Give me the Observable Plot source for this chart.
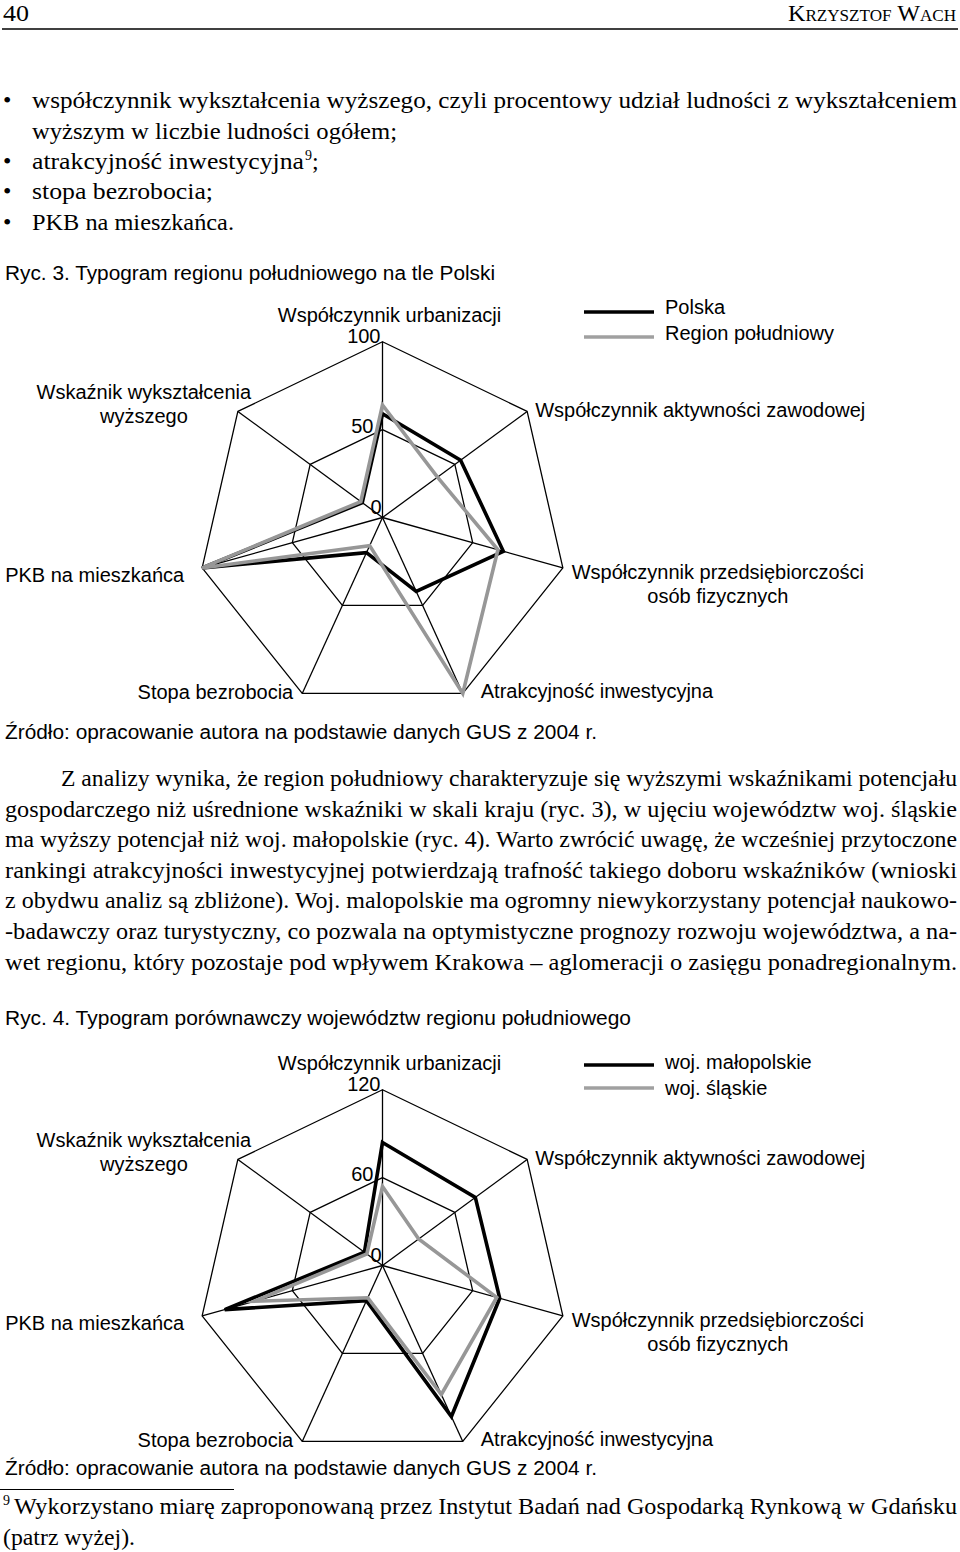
<!DOCTYPE html>
<html>
<head>
<meta charset="utf-8">
<script src="https://cdn.jsdelivr.net/npm/d3@7"></script>
<script src="https://cdn.jsdelivr.net/npm/@observablehq/plot@0.6"></script>
<style>
  html, body { margin: 0; padding: 0; background: #fff; }
  #page { position: relative; width: 960px; height: 1552px; overflow: hidden; background: #fff; }
  .chart { position: absolute; left: 0; width: 960px; }
  #overlay { position: absolute; left: 0; top: 0; pointer-events: none; }
  .serif { font-family: "Liberation Serif", "Times New Roman", serif; fill: #000; }
  .sans { font-family: "Liberation Sans", Arial, Helvetica, sans-serif; fill: #000; }
</style>
</head>
<body>
<div id="page"></div>
<script>
// ---------------- DATA ----------------
// radar axes, clockwise from the top
const axes = [
  "Współczynnik urbanizacji",
  "Współczynnik aktywności zawodowej",
  "Współczynnik przedsiębiorczości\nosób fizycznych",
  "Atrakcyjność inwestycyjna",
  "Stopa bezrobocia",
  "PKB na mieszkańca",
  "Wskaźnik wykształcenia\nwyższego"
];

// Ryc. 3
const fig3Title = "Ryc. 3. Typogram regionu południowego na tle Polski";
const fig3Series = ["Polska", "Region południowy"];
const fig3Polska = [59, 54, 67, 42, 20, 100, 14];
const fig3Region = [64, 38, 64, 100, 16, 100, 15];
const fig3Ticks = [0, 50, 100];

// Ryc. 4
const fig4Title = "Ryc. 4. Typogram porównawczy województw regionu południowego";
const fig4Series = ["woj. małopolskie", "woj. śląskie"];
const fig4Malopolskie = [84, 77, 78, 103, 24, 105, 15];
const fig4Slaskie = [54, 30, 76, 88, 22, 85, 13];
const fig4Ticks = [0, 60, 120];

const sourceText = "Źródło: opracowanie autora na podstawie danych GUS z 2004 r.";

const headerPage = "40";
const headerAuthor = "Krzysztof Wach";

const bulletLines = [
  "współczynnik wykształcenia wyższego, czyli procentowy udział ludności z wykształceniem",
  "wyższym w liczbie ludności ogółem;",
  "atrakcyjność  inwestycyjna",
  "stopa  bezrobocia;",
  "PKB na mieszkańca."
];
const bulletHasDot = [true, false, true, true, true];

const paragraphLines = [
  "Z analizy wynika, że region południowy charakteryzuje się wyższymi wskaźnikami potencjału",
  "gospodarczego niż uśrednione wskaźniki w skali kraju (ryc. 3), w ujęciu województw woj. śląskie",
  "ma wyższy potencjał niż woj. małopolskie (ryc. 4). Warto zwrócić uwagę, że wcześniej przytoczone",
  "rankingi atrakcyjności inwestycyjnej potwierdzają trafność takiego doboru wskaźników (wnioski",
  "z obydwu analiz są zbliżone). Woj. malopolskie ma ogromny niewykorzystany potencjał naukowo-",
  "-badawczy oraz turystyczny, co pozwala na optymistyczne prognozy rozwoju województwa, a na-",
  "wet regionu, który pozostaje pod wpływem Krakowa – aglomeracji o zasięgu ponadregionalnym."
];

const footnoteLines = [
  "Wykorzystano miarę zaproponowaną przez Instytut Badań nad Gospodarką Rynkową w Gdańsku",
  "(patrz wyżej)."
];

// ---------------- LAYOUT ----------------
const CX = 382, CY = 227, R = 185;   // radar centre and radius inside each chart svg
const SKEW = 0.05;                   // slight radial drift of the original drawing
const N = axes.length;
function pt(i, r) {
  const a = 2 * Math.PI * i / N;
  return [r * Math.sin(a), r * Math.cos(a) - SKEW * r];
}
// per-axis label placement (pixel offsets from the outer vertex)
const labelLayout = [
  {anchor: "middle", dx: 7, dy: -28},
  {anchor: "start", dx: 8, dy: -2},
  {anchor: "middle", dx: 155, dy: 15},
  {anchor: "start", dx: 18, dy: -3},
  {anchor: "end", dx: -9, dy: -2},
  {anchor: "end", dx: -18, dy: 6},
  {anchor: "middle", dx: -94, dy: -8}
];
const tickLayout = [
  {dx: -1, dy: -10},
  {dx: -9, dy: -3},
  {dx: -2, dy: -5}
];

function radar(seriesValues, max, ticks) {
  const rings = ticks.filter(t => t > 0).flatMap(t => axes.map((_, i) => ({ring: t, i, r: t / max})));
  const spokes = axes.map((_, i) => ({i}));
  const colors = ["#000000", "#979797"];
  const seriesMarks = seriesValues.map((vals, s) => {
    const data = vals.map((v, i) => ({i, r: v / max}));
    return Plot.line(data, {
      x: d => pt(d.i, d.r)[0], y: d => pt(d.i, d.r)[1],
      curve: "linear-closed", stroke: colors[s], strokeWidth: 3.6,
      strokeLinejoin: "miter", strokeMiterlimit: 6
    });
  });
  const labelMarks = axes.map((name, i) => Plot.text([i], {
    x: k => pt(k, 1)[0], y: k => pt(k, 1)[1],
    text: k => axes[k],
    textAnchor: labelLayout[i].anchor, dx: labelLayout[i].dx, dy: labelLayout[i].dy,
    lineHeight: 1.22, fontSize: 20, fill: "#000"
  }));
  const tickMarks = ticks.map((t, k) => Plot.text([t], {
    x: v => pt(0, v / max)[0], y: v => pt(0, v / max)[1],
    text: v => String(v), textAnchor: "end",
    dx: tickLayout[k].dx, dy: tickLayout[k].dy, fontSize: 20, fill: "#000"
  }));
  return Plot.plot({
    width: 960, height: 420, margin: 0,
    x: {domain: [-1, 1], range: [CX - R, CX + R], axis: null},
    y: {domain: [-1, 1], range: [CY + R, CY - R], axis: null},
    style: {fontFamily: "'Liberation Sans', Arial, Helvetica, sans-serif", fontSize: "20px", background: "transparent", color: "#000"},
    marks: [
      Plot.line(rings, {x: d => pt(d.i, d.r)[0], y: d => pt(d.i, d.r)[1], z: "ring",
        curve: "linear-closed", stroke: "#000", strokeWidth: 1.3}),
      Plot.link(spokes, {x1: d => 0, y1: d => 0, x2: d => pt(d.i, 1)[0], y2: d => pt(d.i, 1)[1],
        stroke: "#000", strokeWidth: 1.3}),
      ...seriesMarks,
      ...labelMarks,
      ...tickMarks
    ]
  });
}

const page = document.getElementById("page");

function placeChart(node, top) {
  const wrap = document.createElement("div");
  wrap.className = "chart";
  wrap.style.top = top + "px";
  wrap.appendChild(node);
  page.appendChild(wrap);
}
placeChart(radar([fig3Polska, fig3Region], 100, fig3Ticks), 290);
placeChart(radar([fig4Malopolskie, fig4Slaskie], 120, fig4Ticks), 1038);

// ---------------- PAGE TEXT OVERLAY ----------------
const svg = d3.select(page).append("svg").attr("id", "overlay")
  .attr("width", 960).attr("height", 1552);

function line(cls, txt, x, y, size, width, anchor) {
  const t = svg.append("text").attr("class", cls).attr("x", x).attr("y", y)
    .attr("font-size", size).text(txt);
  if (anchor) t.attr("text-anchor", anchor);
  if (width) t.attr("textLength", width).attr("lengthAdjust", "spacingAndGlyphs");
  return t;
}

// header
line("serif", headerPage, 3, 21, 24, 26);
line("serif", headerAuthor, 956, 21, 24, 168, "end").style("font-variant", "small-caps");
svg.append("line").attr("x1", 2).attr("x2", 958).attr("y1", 29).attr("y2", 29)
  .attr("stroke", "#000").attr("stroke-width", 1.6);

// bullet list
const bulletBase = [108, 138.5, 169, 199, 229.5];
const bulletWidth = [925, 365, 272, 181, 202];
bulletLines.forEach((txt, k) => {
  if (bulletHasDot[k]) line("serif", "•", 3, bulletBase[k], 24);
  line("serif", txt, 32, bulletBase[k], k === 0 ? 23 : 24, bulletWidth[k]);
});
line("serif", "9", 305, bulletBase[2] - 9, 14);
line("serif", ";", 312, bulletBase[2], 24);

// figure 3 caption + source
line("sans", fig3Title, 5, 280, 20, 490);
line("sans", sourceText, 5, 739, 20, 592);

// legends
function legend(names, y0, y1, ty0, ty1) {
  const cols = ["#000000", "#a0a0a0"];
  [[y0, ty0], [y1, ty1]].forEach(([ly, ty], k) => {
    svg.append("line").attr("x1", 584).attr("x2", 654).attr("y1", ly).attr("y2", ly)
      .attr("stroke", cols[k]).attr("stroke-width", 3.6);
    line("sans", names[k], 665, ty, 20);
  });
}
legend(fig3Series, 312, 337, 314, 340);
legend(fig4Series, 1065, 1088, 1069, 1095);

// paragraph
const paraBase = [786, 816.5, 847, 877.5, 908, 938.5, 970];
paragraphLines.forEach((txt, k) => {
  const x = k === 0 ? 61 : 5;
  line("serif", txt, x, paraBase[k], 22.5, 957 - x);
});

// figure 4 caption + source
line("sans", fig4Title, 5, 1025, 20, 626);
line("sans", sourceText, 5, 1475, 20, 592);

// footnote
svg.append("line").attr("x1", 0).attr("x2", 234).attr("y1", 1489.5).attr("y2", 1489.5)
  .attr("stroke", "#000").attr("stroke-width", 1);
line("serif", "9", 3, 1505, 14);
line("serif", footnoteLines[0], 14, 1514, 22.5, 943);
line("serif", footnoteLines[1], 3, 1545, 23, 132);
</script>
</body>
</html>
